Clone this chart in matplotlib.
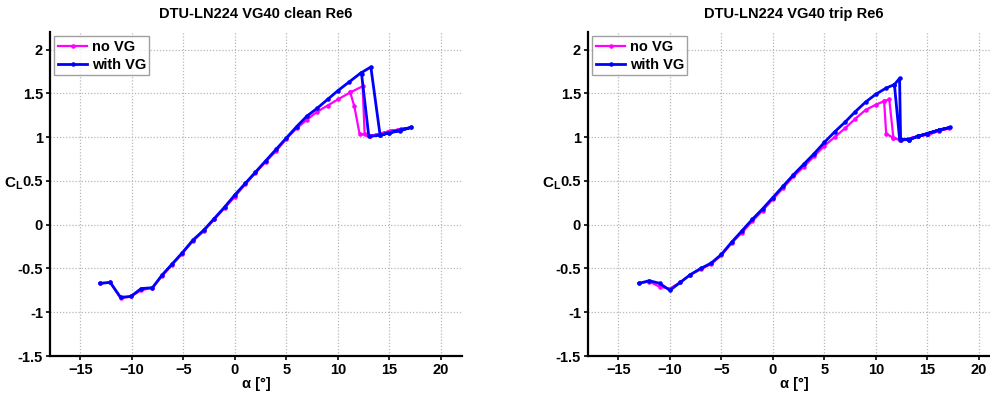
import matplotlib
matplotlib.use("Agg")
import matplotlib.pyplot as plt
from matplotlib.ticker import FixedLocator

plt.rcParams['font.family'] = ['Liberation Sans', 'DejaVu Sans']
plt.rcParams['font.weight'] = 'bold'
plt.rcParams['mathtext.fontset'] = 'custom'
plt.rcParams['mathtext.rm'] = 'Liberation Sans:bold'
plt.rcParams['mathtext.bf'] = 'Liberation Sans:bold'
plt.rcParams['mathtext.it'] = 'Liberation Sans:bold'

# ---- clean case -------------------------------------------------------
clean_vg_alpha = [-13.1, -12.1, -11.1, -10.1, -9.1, -8.0, -7.1, -6.1, -5.1, -4.1,
                  -3.0, -2.0, -1.0, 0.0, 1.0, 2.0, 3.0, 4.0, 5.0, 6.0, 7.0, 8.0,
                  9.0, 10.0, 11.1, 12.2, 13.2, 14.1, 15.0, 16.0, 17.1,
                  16.0, 15.0, 14.1, 13.0, 12.3]
clean_vg_cl = [-0.67, -0.66, -0.83, -0.82, -0.73, -0.72, -0.58, -0.45, -0.32, -0.18,
               -0.06, 0.07, 0.20, 0.34, 0.47, 0.60, 0.73, 0.86, 0.99, 1.12, 1.24, 1.33,
               1.43, 1.53, 1.63, 1.73, 1.80, 1.02, 1.05, 1.07, 1.11,
               1.08, 1.05, 1.02, 1.01, 1.72]

clean_novg_alpha = [-13.1, -12.1, -11.1, -10.1, -9.1, -8.0, -7.1, -6.1, -5.1, -4.1,
                    -3.0, -2.0, -1.0, 0.0, 1.0, 2.0, 3.0, 4.0, 5.0, 6.0, 7.0, 8.0,
                    9.0, 10.0, 11.2, 12.4, 12.6, 13.1, 14.1, 15.1, 16.1, 17.1,
                    16.1, 15.1, 14.1, 13.1, 12.1, 11.6, 11.2]
clean_novg_cl = [-0.67, -0.66, -0.84, -0.82, -0.75, -0.72, -0.59, -0.46, -0.33, -0.19,
                 -0.07, 0.06, 0.19, 0.32, 0.46, 0.59, 0.72, 0.84, 0.98, 1.10, 1.20, 1.29,
                 1.36, 1.43, 1.51, 1.58, 1.03, 1.01, 1.04, 1.07, 1.09, 1.11,
                 1.09, 1.07, 1.04, 1.01, 1.04, 1.35, 1.51]

# ---- tripped case -----------------------------------------------------
trip_vg_alpha = [-13.0, -12.0, -11.0, -10.0, -9.0, -8.0, -7.0, -6.0, -5.0, -4.0,
                 -3.0, -2.0, -1.0, 0.0, 1.0, 2.0, 3.0, 4.0, 5.0, 6.0, 7.0, 8.0,
                 9.0, 10.0, 11.0, 11.8, 12.3, 12.4, 13.2, 14.1, 15.0, 16.1, 17.2,
                 16.1, 15.0, 14.1, 13.2, 12.3, 11.8]
trip_vg_cl = [-0.67, -0.64, -0.67, -0.75, -0.66, -0.57, -0.50, -0.44, -0.34, -0.20,
              -0.07, 0.06, 0.18, 0.31, 0.44, 0.57, 0.69, 0.81, 0.94, 1.06, 1.17, 1.29,
              1.40, 1.49, 1.56, 1.60, 1.67, 0.97, 0.97, 1.01, 1.04, 1.08, 1.11,
              1.08, 1.04, 1.01, 0.97, 0.98, 1.60]

trip_novg_alpha = [-13.0, -12.0, -11.0, -10.0, -9.0, -8.0, -7.0, -6.0, -5.0, -4.0,
                   -3.0, -2.0, -1.0, 0.0, 1.0, 2.0, 3.0, 4.0, 5.0, 6.0, 7.0, 8.0,
                   9.0, 10.0, 10.8, 11.3, 11.7, 12.3, 13.1, 14.1, 15.1, 16.1, 17.1,
                   16.1, 15.1, 14.1, 13.1, 12.3, 11.7, 11.0, 10.8]
trip_novg_cl = [-0.67, -0.65, -0.71, -0.73, -0.66, -0.57, -0.51, -0.45, -0.35, -0.21,
                -0.09, 0.04, 0.16, 0.29, 0.42, 0.55, 0.66, 0.78, 0.90, 1.00, 1.10, 1.21,
                1.31, 1.37, 1.41, 1.43, 0.99, 0.97, 0.98, 1.01, 1.03, 1.07, 1.10,
                1.07, 1.03, 1.01, 0.98, 0.97, 0.99, 1.04, 1.41]

titles = ["DTU-LN224 VG40 clean Re6", "DTU-LN224 VG40 trip Re6"]
series = [
    (clean_novg_alpha, clean_novg_cl, clean_vg_alpha, clean_vg_cl),
    (trip_novg_alpha, trip_novg_cl, trip_vg_alpha, trip_vg_cl),
]
x_ticks = [-15, -10, -5, 0, 5, 10, 15, 20]
y_ticks = [-1.5, -1, -0.5, 0, 0.5, 1, 1.5, 2]
y_ticklabels = ['-1.5', '-1', '-0.5', '0', '0.5', '1', '1.5', '2']

W, H = 990, 394
fig = plt.figure(figsize=(W / 100, H / 100), dpi=100)

lefts = [50, 588]
for left, title, (a0, c0, a1, c1) in zip(lefts, titles, series):
    ax = fig.add_axes([left / W, 38 / H, 412 / W, 324 / H])
    ax.plot(a0, c0, color='#ff00ff', lw=1.6, marker='.', ms=4.5, label='no VG')
    ax.plot(a1, c1, color='#0000ff', lw=2.0, marker='.', ms=4.5, label='with VG')

    ax.set_xlim(-17.95, 22.05)
    ax.set_ylim(-1.5, 2.2)
    ax.xaxis.set_major_locator(FixedLocator(x_ticks))
    ax.set_yticks(y_ticks)
    ax.set_yticklabels(y_ticklabels)
    ax.tick_params(direction='out', length=3, width=1.2, labelsize=10.5, pad=2)
    for lbl in ax.get_xticklabels() + ax.get_yticklabels():
        lbl.set_fontweight('bold')

    ax.grid(True, color='#b8b8b8', linestyle=(0, (1, 1.5)), linewidth=0.9)
    for s in ('top', 'right'):
        ax.spines[s].set_visible(False)
    for s in ('left', 'bottom'):
        ax.spines[s].set_linewidth(1.6)

    ax.set_title(title, fontsize=10.5, fontweight='bold', pad=10)
    ax.set_xlabel('α [°]', fontsize=10.5, fontweight='bold', labelpad=0)
    ax.set_ylabel(r'$\mathbf{C_L}$', fontsize=11, rotation=0, ha='right')
    ax.yaxis.set_label_coords(-0.065, 0.505)

    leg = ax.legend(loc='upper left', fontsize=10.5, frameon=True, fancybox=False,
                    borderaxespad=0.3, handlelength=2.0, handletextpad=0.3,
                    borderpad=0.25, labelspacing=0.25)
    leg.get_frame().set_edgecolor('#888888')
    leg.get_frame().set_linewidth(1.0)
    for t in leg.get_texts():
        t.set_fontweight('bold')

fig.savefig('out.png', dpi=100)
